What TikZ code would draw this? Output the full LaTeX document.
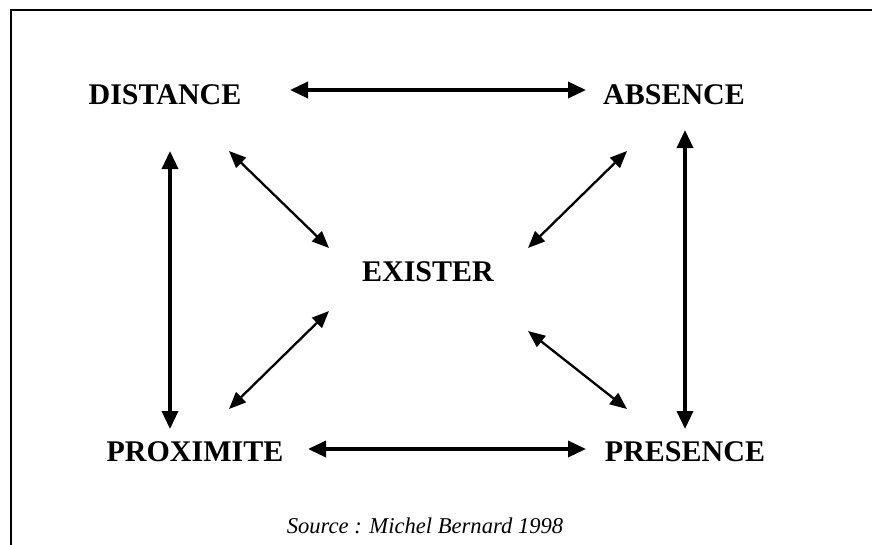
\documentclass[tikz,border=0pt]{standalone}
\usepackage{fontspec}
\setmainfont{Liberation Serif}
\usetikzlibrary{arrows.meta}
\begin{document}
\begin{tikzpicture}[x=1pt,y=-1pt,
  lbl/.style={font=\fontsize{30}{34}\selectfont\bfseries, inner sep=0pt},
  src/.style={font=\fontsize{22.6}{26}\selectfont\itshape, inner sep=0pt},
  thick arrow/.style={line width=3.4pt, {Triangle[length=18pt,width=16pt]}-{Triangle[length=18pt,width=16pt]}},
  thin arrow/.style={line width=2.3pt, {Triangle[length=17pt,width=14pt]}-{Triangle[length=17pt,width=14pt]}}]
\useasboundingbox (0,0) rectangle (872,544);
\draw[line width=2.6pt] (11,546) -- (11,10) -- (874,10);
\node[lbl] (dist) at (165,95) {DISTANCE};
\node[lbl] (abs) at (674,95) {ABSENCE};
\node[lbl] (ex) at (428,272) {EXISTER};
\node[lbl] (prox) at (195,452) {PROXIMITE};
\node[lbl] (pres) at (685,452) {PRESENCE};
\node[src] (source) at (425,526) {Source : Michel Bernard 1998};
% arrow end points
\coordinate (t1) at (290,90);  \coordinate (t2) at (586,90);
\coordinate (b1) at (308,449); \coordinate (b2) at (586,449);
\coordinate (l1) at (170,151); \coordinate (l2) at (170,429);
\coordinate (r1) at (685,130); \coordinate (r2) at (685,429);
\coordinate (d1) at (229,151); \coordinate (d2) at (329,248);
\coordinate (a1) at (627,151); \coordinate (a2) at (528,248);
\coordinate (p1) at (229,409); \coordinate (p2) at (329,311);
\coordinate (q1) at (627,409); \coordinate (q2) at (528,331);
\draw[thick arrow] (t1) -- (t2);
\draw[thick arrow] (b1) -- (b2);
\draw[thick arrow] (l1) -- (l2);
\draw[thick arrow] (r1) -- (r2);
\draw[thin arrow] (d1) -- (d2);
\draw[thin arrow] (a1) -- (a2);
\draw[thin arrow] (p1) -- (p2);
\draw[thin arrow] (q1) -- (q2);
\end{tikzpicture}
\end{document}
